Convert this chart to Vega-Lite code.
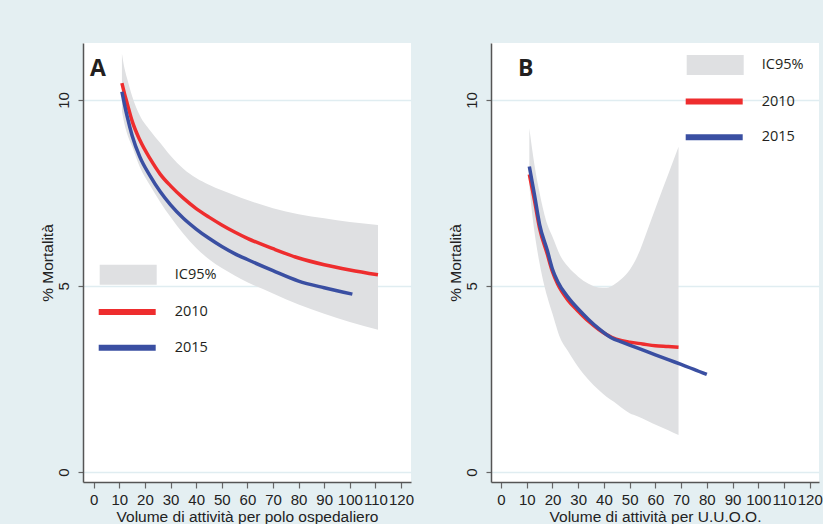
{
  "$schema": "https://vega.github.io/schema/vega-lite/v6.json",
  "background": "#e4eff2",
  "padding": {"left": 40, "top": 43, "right": 0, "bottom": 0},
  "spacing": 34,
  "config": {
    "view": {"fill": "white", "stroke": null},
    "font": "Liberation Sans",
    "axis": {
      "labelFont": "Liberation Sans",
      "titleFont": "Liberation Sans",
      "labelColor": "#222222",
      "titleColor": "#222222",
      "labelFontSize": 15,
      "titleFontSize": 15.5,
      "titleFontWeight": "normal",
      "domainColor": "#555555",
      "domainWidth": 1.5,
      "tickColor": "#666666",
      "tickWidth": 1.2
    },
    "axisX": {"grid": false, "tickSize": 6, "labelPadding": 4, "titlePadding": 2, "labelOverlap": false, "labelFlush": false},
    "axisY": {"grid": true, "gridColor": "#e0edf1", "gridWidth": 1.5, "tickSize": 5, "labelAngle": -90, "labelAlign": "center", "labelBaseline": "bottom", "labelPadding": 7, "titlePadding": 1},
    "legend": {"labelFont": "Open Sans", "labelFontSize": 14.5, "labelColor": "#231f20", "padding": 0, "title": null}
  },
  "datasets": {
    "bandA": [
      {"x": 11, "lo": 9.70, "hi": 11.25},
      {"x": 12, "lo": 9.35, "hi": 10.85},
      {"x": 13, "lo": 9.10, "hi": 10.58},
      {"x": 15, "lo": 8.75, "hi": 10.10},
      {"x": 18, "lo": 8.20, "hi": 9.58},
      {"x": 22, "lo": 7.70, "hi": 9.18},
      {"x": 26, "lo": 7.25, "hi": 8.84},
      {"x": 30, "lo": 6.85, "hi": 8.50},
      {"x": 35, "lo": 6.40, "hi": 8.15},
      {"x": 40, "lo": 6.02, "hi": 7.90},
      {"x": 45, "lo": 5.72, "hi": 7.72},
      {"x": 50, "lo": 5.48, "hi": 7.57},
      {"x": 55, "lo": 5.28, "hi": 7.44},
      {"x": 60, "lo": 5.10, "hi": 7.31},
      {"x": 70, "lo": 4.80, "hi": 7.09},
      {"x": 80, "lo": 4.50, "hi": 6.93},
      {"x": 90, "lo": 4.25, "hi": 6.82},
      {"x": 100, "lo": 4.03, "hi": 6.72},
      {"x": 111, "lo": 3.82, "hi": 6.64}
    ],
    "linesA": [
      {"x": 11, "y": 10.45, "serie": "2010"},
      {"x": 12, "y": 10.17, "serie": "2010"},
      {"x": 13, "y": 9.92, "serie": "2010"},
      {"x": 15, "y": 9.43, "serie": "2010"},
      {"x": 18, "y": 8.92, "serie": "2010"},
      {"x": 22, "y": 8.42, "serie": "2010"},
      {"x": 26, "y": 8.00, "serie": "2010"},
      {"x": 30, "y": 7.69, "serie": "2010"},
      {"x": 35, "y": 7.36, "serie": "2010"},
      {"x": 40, "y": 7.08, "serie": "2010"},
      {"x": 45, "y": 6.85, "serie": "2010"},
      {"x": 50, "y": 6.64, "serie": "2010"},
      {"x": 55, "y": 6.45, "serie": "2010"},
      {"x": 60, "y": 6.28, "serie": "2010"},
      {"x": 70, "y": 6.00, "serie": "2010"},
      {"x": 80, "y": 5.75, "serie": "2010"},
      {"x": 90, "y": 5.57, "serie": "2010"},
      {"x": 100, "y": 5.43, "serie": "2010"},
      {"x": 111, "y": 5.30, "serie": "2010"},
      {"x": 11, "y": 10.22, "serie": "2015"},
      {"x": 12, "y": 9.88, "serie": "2015"},
      {"x": 13, "y": 9.57, "serie": "2015"},
      {"x": 15, "y": 9.04, "serie": "2015"},
      {"x": 18, "y": 8.47, "serie": "2015"},
      {"x": 22, "y": 7.96, "serie": "2015"},
      {"x": 26, "y": 7.53, "serie": "2015"},
      {"x": 30, "y": 7.18, "serie": "2015"},
      {"x": 35, "y": 6.82, "serie": "2015"},
      {"x": 40, "y": 6.53, "serie": "2015"},
      {"x": 45, "y": 6.28, "serie": "2015"},
      {"x": 50, "y": 6.06, "serie": "2015"},
      {"x": 55, "y": 5.87, "serie": "2015"},
      {"x": 60, "y": 5.71, "serie": "2015"},
      {"x": 70, "y": 5.41, "serie": "2015"},
      {"x": 80, "y": 5.13, "serie": "2015"},
      {"x": 90, "y": 4.95, "serie": "2015"},
      {"x": 101, "y": 4.78, "serie": "2015"}
    ],
    "bandB": [
      {"x": 11, "lo": 7.70, "hi": 9.24},
      {"x": 12, "lo": 7.00, "hi": 8.72},
      {"x": 13, "lo": 6.45, "hi": 8.25},
      {"x": 15, "lo": 5.60, "hi": 7.50},
      {"x": 18, "lo": 4.70, "hi": 6.65},
      {"x": 20, "lo": 4.25, "hi": 6.32},
      {"x": 23, "lo": 3.60, "hi": 5.82},
      {"x": 26, "lo": 3.25, "hi": 5.52},
      {"x": 30, "lo": 2.82, "hi": 5.25},
      {"x": 34, "lo": 2.48, "hi": 5.06},
      {"x": 38, "lo": 2.20, "hi": 4.96},
      {"x": 41, "lo": 2.02, "hi": 4.95},
      {"x": 44, "lo": 1.88, "hi": 5.04},
      {"x": 47, "lo": 1.72, "hi": 5.20},
      {"x": 50, "lo": 1.58, "hi": 5.43},
      {"x": 53, "lo": 1.50, "hi": 5.80},
      {"x": 57, "lo": 1.37, "hi": 6.52},
      {"x": 61, "lo": 1.24, "hi": 7.27},
      {"x": 65, "lo": 1.12, "hi": 8.00},
      {"x": 69, "lo": 0.99, "hi": 8.74}
    ],
    "linesB": [
      {"x": 11, "y": 8.00, "serie": "2010"},
      {"x": 13, "y": 7.30, "serie": "2010"},
      {"x": 15, "y": 6.55, "serie": "2010"},
      {"x": 18, "y": 5.85, "serie": "2010"},
      {"x": 20, "y": 5.38, "serie": "2010"},
      {"x": 22, "y": 5.05, "serie": "2010"},
      {"x": 26, "y": 4.62, "serie": "2010"},
      {"x": 30, "y": 4.32, "serie": "2010"},
      {"x": 34, "y": 4.05, "serie": "2010"},
      {"x": 38, "y": 3.83, "serie": "2010"},
      {"x": 43, "y": 3.62, "serie": "2010"},
      {"x": 47, "y": 3.53, "serie": "2010"},
      {"x": 50, "y": 3.49, "serie": "2010"},
      {"x": 55, "y": 3.44, "serie": "2010"},
      {"x": 60, "y": 3.39, "serie": "2010"},
      {"x": 65, "y": 3.37, "serie": "2010"},
      {"x": 69, "y": 3.35, "serie": "2010"},
      {"x": 11, "y": 8.21, "serie": "2015"},
      {"x": 13, "y": 7.45, "serie": "2015"},
      {"x": 15, "y": 6.65, "serie": "2015"},
      {"x": 18, "y": 5.95, "serie": "2015"},
      {"x": 20, "y": 5.45, "serie": "2015"},
      {"x": 22, "y": 5.12, "serie": "2015"},
      {"x": 26, "y": 4.70, "serie": "2015"},
      {"x": 30, "y": 4.38, "serie": "2015"},
      {"x": 34, "y": 4.10, "serie": "2015"},
      {"x": 38, "y": 3.85, "serie": "2015"},
      {"x": 43, "y": 3.60, "serie": "2015"},
      {"x": 47, "y": 3.49, "serie": "2015"},
      {"x": 50, "y": 3.41, "serie": "2015"},
      {"x": 55, "y": 3.28, "serie": "2015"},
      {"x": 60, "y": 3.15, "serie": "2015"},
      {"x": 65, "y": 3.02, "serie": "2015"},
      {"x": 70, "y": 2.89, "serie": "2015"},
      {"x": 75, "y": 2.76, "serie": "2015"},
      {"x": 80, "y": 2.62, "serie": "2015"}
    ]
  },
  "resolve": {
    "scale": {"fill": "independent", "stroke": "independent", "x": "independent", "y": "independent"},
    "legend": {"fill": "independent", "stroke": "independent"}
  },
  "hconcat": [
    {
      "width": 328,
      "height": 439,
      "title": {"text": "A", "anchor": "start", "frame": "group", "offset": -38, "dx": 7, "font": "Open Sans", "fontSize": 23, "fontWeight": "bold", "color": "#231f20"},
      "layer": [
        {
          "data": {"name": "bandA"},
          "mark": {"type": "area", "opacity": 1, "interpolate": "monotone"},
          "encoding": {
            "x": {"field": "x", "type": "quantitative", "scale": {"domain": [-4.2, 123.9], "nice": false, "zero": false}, "axis": {"values": [0, 10, 20, 30, 40, 50, 60, 70, 80, 90, 100, 110, 120], "labelOverlap": false, "labelFlush": false, "labelBound": false, "title": "Volume di attività per polo ospedaliero"}},
            "y": {"field": "lo", "type": "quantitative", "scale": {"domain": [-0.27, 11.53], "nice": false, "zero": false}, "axis": {"values": [0, 5, 10], "title": "% Mortalità"}},
            "y2": {"field": "hi"},
            "fill": {"datum": "IC95%", "scale": {"range": ["#dfe0e2"]}, "legend": {"orient": "none", "legendX": 16.7, "legendY": 221.7, "symbolType": "M-1,-1H4.7V1H-1Z", "symbolSize": 400, "symbolStrokeWidth": 0, "symbolOpacity": 1, "labelOffset": 55}}
          }
        },
        {
          "data": {"name": "linesA"},
          "mark": {"type": "line", "strokeWidth": 3.5, "interpolate": "monotone"},
          "encoding": {
            "x": {"field": "x", "type": "quantitative", "axis": {"values": [0, 10, 20, 30, 40, 50, 60, 70, 80, 90, 100, 110, 120], "labelOverlap": false, "labelFlush": false, "labelBound": false, "title": "Volume di attività per polo ospedaliero"}},
            "y": {"field": "y", "type": "quantitative"},
            "stroke": {"field": "serie", "type": "nominal", "scale": {"domain": ["2010", "2015"], "range": ["#ee2d2e", "#3a4fa2"]}, "legend": {"orient": "none", "legendX": 12.7, "legendY": 256, "symbolType": "M-1,0H4.7", "symbolSize": 400, "symbolStrokeWidth": 6, "labelOffset": 53, "rowPadding": 10.7}}
          }
        }
      ]
    },
    {
      "width": 328,
      "height": 439,
      "title": {"text": "B", "anchor": "start", "frame": "group", "offset": -38, "dx": 27, "font": "Open Sans", "fontSize": 23, "fontWeight": "bold", "color": "#231f20"},
      "layer": [
        {
          "data": {"name": "bandB"},
          "mark": {"type": "area", "opacity": 1, "interpolate": "monotone"},
          "encoding": {
            "x": {"field": "x", "type": "quantitative", "scale": {"domain": [-3.9, 123.6], "nice": false, "zero": false}, "axis": {"values": [0, 10, 20, 30, 40, 50, 60, 70, 80, 90, 100, 110, 120], "labelOverlap": false, "labelFlush": false, "labelBound": false, "title": "Volume di attività per U.U.O.O."}},
            "y": {"field": "lo", "type": "quantitative", "scale": {"domain": [-0.27, 11.53], "nice": false, "zero": false}, "axis": {"values": [0, 5, 10], "title": "% Mortalità"}},
            "y2": {"field": "hi"},
            "fill": {"datum": "IC95%", "scale": {"range": ["#dfe0e2"]}, "legend": {"orient": "none", "legendX": 195.7, "legendY": 12, "symbolType": "M-1,-1H4.7V1H-1Z", "symbolSize": 400, "symbolStrokeWidth": 0, "symbolOpacity": 1, "labelOffset": 55}}
          }
        },
        {
          "data": {"name": "linesB"},
          "mark": {"type": "line", "strokeWidth": 3.5, "interpolate": "monotone"},
          "encoding": {
            "x": {"field": "x", "type": "quantitative", "axis": {"values": [0, 10, 20, 30, 40, 50, 60, 70, 80, 90, 100, 110, 120], "labelOverlap": false, "labelFlush": false, "labelBound": false, "title": "Volume di attività per U.U.O.O."}},
            "y": {"field": "y", "type": "quantitative"},
            "stroke": {"field": "serie", "type": "nominal", "scale": {"domain": ["2010", "2015"], "range": ["#ee2d2e", "#3a4fa2"]}, "legend": {"orient": "none", "legendX": 191.7, "legendY": 45.5, "symbolType": "M-1,0H4.7", "symbolSize": 400, "symbolStrokeWidth": 6, "labelOffset": 53, "rowPadding": 10.7}}
          }
        }
      ]
    }
  ]
}
